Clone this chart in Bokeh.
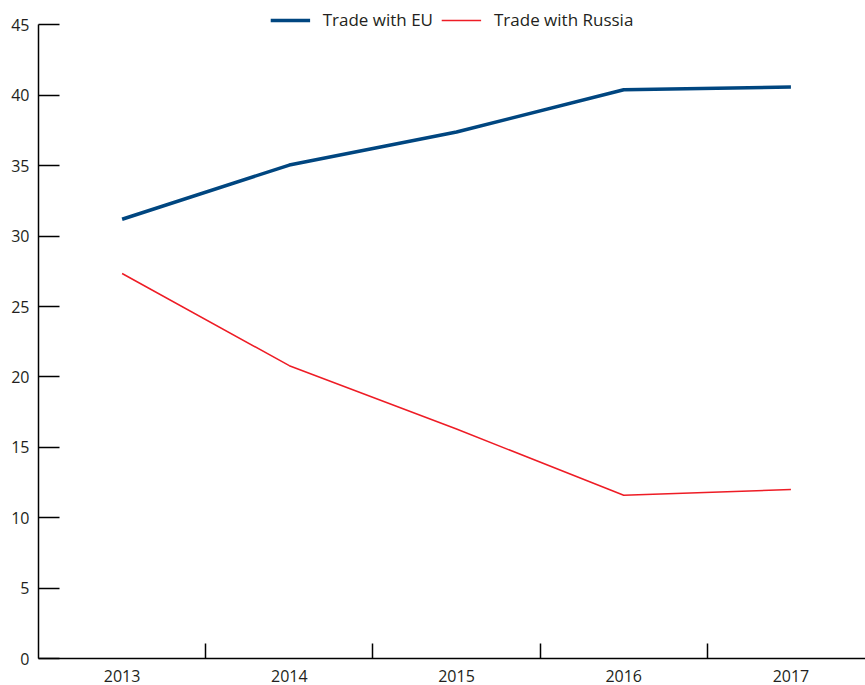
from bokeh.plotting import figure
from bokeh.models import Range1d, FixedTicker, Legend, LegendItem
from bokeh.embed import file_html
from bokeh.resources import INLINE

years = ["2013", "2014", "2015", "2016", "2017"]
trade_eu = [31.2, 35.05, 37.4, 40.4, 40.6]
trade_russia = [27.35, 20.8, 16.3, 11.6, 12.0]
y_ticks = [0, 5, 10, 15, 20, 25, 30, 35, 40, 45]

FONT = "Open Sans"
TXT = "#231f20"

xs = [i + 0.5 for i in range(len(years))]

p = figure(width=865, height=685, output_backend="svg", toolbar_location=None,
           x_range=Range1d(0, 4.946), y_range=Range1d(0, 46.74),
           min_border_left=38, min_border_right=0, min_border_top=0, min_border_bottom=27)
p.outline_line_color = None
p.xgrid.visible = False
p.ygrid.visible = False
p.background_fill_color = "white"
p.border_fill_color = "white"

r_eu = p.line(xs, trade_eu, line_color="#004680", line_width=3.5)
r_ru = p.line(xs, trade_russia, line_color="#ee1c25", line_width=1.5)

# y axis
ya = p.yaxis[0]
ya.ticker = FixedTicker(ticks=y_ticks, minor_ticks=[])
ya.bounds = (0, 45)
ya.major_tick_in = 21
ya.major_tick_out = 0
ya.major_tick_line_width = 1.5
ya.major_tick_line_color = "black"
ya.axis_line_width = 1.5
ya.axis_line_color = "black"
ya.major_label_standoff = 9
ya.major_label_text_font = FONT
ya.major_label_text_font_size = "16px"
ya.major_label_text_color = TXT

# x axis: labels at category centres, tick marks at category boundaries
xa = p.xaxis[0]
xa.ticker = FixedTicker(ticks=xs, minor_ticks=[i + 1 for i in range(len(years) - 1)])
xa.major_label_overrides = {x: y for x, y in zip(xs, years)}
xa.major_tick_line_color = None
xa.major_tick_in = 0
xa.major_tick_out = 0
xa.minor_tick_in = 15
xa.minor_tick_out = 0
xa.minor_tick_line_color = "black"
xa.minor_tick_line_width = 1.5
xa.axis_line_width = 1.5
xa.axis_line_color = "black"
xa.major_label_standoff = 11
xa.major_label_text_font = FONT
xa.major_label_text_font_size = "16px"
xa.major_label_text_color = TXT

legend = Legend(items=[LegendItem(label="Trade with EU", renderers=[r_eu]),
                       LegendItem(label="Trade with Russia", renderers=[r_ru])],
                location="top_center", orientation="horizontal",
                border_line_color=None, background_fill_alpha=0,
                margin=8, padding=0, spacing=8, label_standoff=13,
                glyph_width=40, glyph_height=22,
                label_text_font=FONT, label_text_font_size="17px",
                label_text_color=TXT)
p.add_layout(legend)

open("out.html", "w").write(file_html(p, INLINE))
